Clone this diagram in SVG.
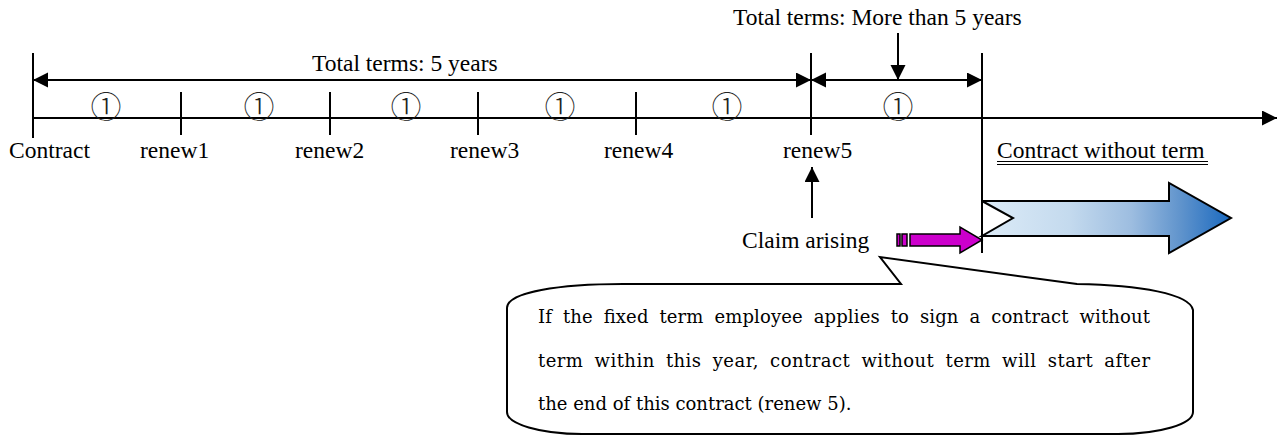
<svg xmlns="http://www.w3.org/2000/svg" width="1279" height="436" viewBox="0 0 1279 436">
<style>
.t{font-family:"Liberation Serif","Times New Roman",serif;font-size:23.5px;fill:#000}
.c{font-family:"Noto Sans CJK JP","DejaVu Sans",sans-serif;font-size:31px;font-weight:300;fill:#222;text-anchor:middle}
.b{font-family:"DejaVu Serif","Liberation Serif",serif;font-size:18px;fill:#000}
.ln{stroke:#000;stroke-width:2;fill:none}
</style>
<defs>
<marker id="ah" markerUnits="userSpaceOnUse" markerWidth="16" markerHeight="16" refX="15" refY="7.5" orient="auto-start-reverse">
<path d="M0,0 L15,7.5 L0,15 Z" fill="#000"/>
</marker>
<linearGradient id="bg" gradientUnits="userSpaceOnUse" x1="982" y1="0" x2="1231" y2="0">
<stop offset="0" stop-color="#dcebf7"/>
<stop offset="0.35" stop-color="#c4daee"/>
<stop offset="0.6" stop-color="#9dbde0"/>
<stop offset="0.8" stop-color="#5f93cc"/>
<stop offset="1" stop-color="#1a69bf"/>
</linearGradient>
</defs>

<g id="connectors">
<line class="ln" x1="33" y1="118" x2="1277" y2="118" marker-end="url(#ah)"/>
<line class="ln" x1="33" y1="80" x2="811" y2="80" marker-start="url(#ah)" marker-end="url(#ah)"/>
<line class="ln" x1="811" y1="80" x2="982" y2="80" marker-start="url(#ah)" marker-end="url(#ah)"/>
<line class="ln" x1="898" y1="33" x2="898" y2="80" marker-end="url(#ah)"/>
<line class="ln" x1="812" y1="218" x2="812" y2="167" marker-end="url(#ah)"/>
</g>

<g id="ticks">
<line class="ln" x1="33" y1="53" x2="33" y2="138"/>
<line class="ln" x1="181" y1="92" x2="181" y2="135"/>
<line class="ln" x1="330" y1="92" x2="330" y2="135"/>
<line class="ln" x1="478" y1="92" x2="478" y2="135"/>
<line class="ln" x1="636" y1="92" x2="636" y2="135"/>
<line class="ln" x1="811" y1="53" x2="811" y2="135"/>
<line class="ln" x1="982" y1="53" x2="982" y2="253"/>
</g>

<g id="top-labels">
<text class="t" x="312" y="71">Total terms: 5 years</text>
<text class="t" x="733" y="25">Total terms: More than 5 years</text>
</g>

<g id="periods">
<text class="c" x="106" y="118">①</text>
<text class="c" x="259" y="118">①</text>
<text class="c" x="406" y="118">①</text>
<text class="c" x="560" y="118">①</text>
<text class="c" x="727" y="118">①</text>
<text class="c" x="898" y="118">①</text>
</g>

<g id="tick-labels">
<text class="t" x="9" y="158">Contract</text>
<text class="t" x="140" y="158">renew1</text>
<text class="t" x="295" y="158">renew2</text>
<text class="t" x="450" y="158">renew3</text>
<text class="t" x="604" y="158">renew4</text>
<text class="t" x="783" y="158">renew5</text>
</g>

<g id="contract-without-term">
<text class="t" x="997" y="158">Contract without term</text>
<line x1="997" y1="161.5" x2="1208" y2="161.5" stroke="#000" stroke-width="1"/>
<line x1="997" y1="164.5" x2="1208" y2="164.5" stroke="#000" stroke-width="1"/>
</g>

<g id="claim">
<text class="t" x="742" y="248">Claim arising</text>
</g>

<g id="magenta-arrow" fill="#cc00cc" stroke="#000" stroke-width="1.5" stroke-linejoin="miter">
<rect x="897" y="234" width="3" height="12"/>
<rect x="902" y="234" width="5" height="12"/>
<path d="M910,234 L960,234 L960,227 L982,240 L960,253 L960,246 L910,246 Z"/>
</g>

<g id="blue-arrow">
<path d="M982,201 L1169,201 L1169,183 L1231,218 L1169,253 L1169,236 L982,236 L1013,218 Z" fill="url(#bg)" stroke="#000" stroke-width="2" stroke-linejoin="miter"/>
</g>

<g id="callout">
<path d="M507,308 C507,292 560,284 623,284 L901,284 L880,257 L1077,284 C1140,285 1190,294 1193,310 L1193,412 C1193,424 1160,434 1118,434 L582,434 C540,434 507,424 507,412 Z" fill="#fff" stroke="#000" stroke-width="2"/>
<text class="b" x="538" y="323" word-spacing="5" textLength="612">If the fixed term employee applies to sign a contract without</text>
<text class="b" x="538" y="367" word-spacing="5" textLength="612">term within this year, contract without term will start after</text>
<text class="b" x="538" y="410">the end of this contract (renew 5).</text>
</g>
</svg>
